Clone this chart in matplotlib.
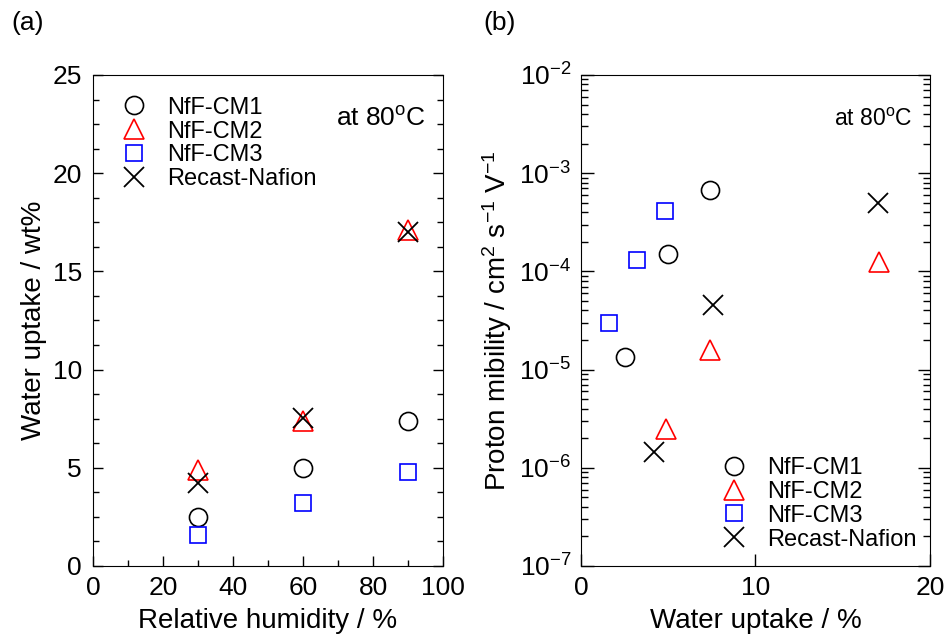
import numpy as np
import matplotlib.pyplot as plt
from matplotlib.ticker import MultipleLocator, LogLocator, NullFormatter, NullLocator

plt.rcParams['font.family'] = ['Liberation Sans', 'DejaVu Sans']
plt.rcParams['mathtext.fontset'] = 'custom'
plt.rcParams['mathtext.rm'] = 'Liberation Sans'
plt.rcParams['mathtext.it'] = 'Liberation Sans'
plt.rcParams['mathtext.default'] = 'regular'
plt.rcParams['axes.unicode_minus'] = False

# relative humidity (%)
rh = [30, 60, 90]
# water uptake (wt%) per membrane
wu_cm1 = [2.5, 5.0, 7.4]
wu_cm2 = [4.9, 7.4, 17.1]
wu_cm3 = [1.6, 3.2, 4.8]
wu_naf = [4.2, 7.55, 17.0]
# proton mobility (cm2 s-1 V-1)
mu_cm1 = [1.35e-5, 1.5e-4, 6.8e-4]
mu_cm2 = [2.5e-6, 1.6e-5, 1.25e-4]
mu_cm3 = [3.0e-5, 1.3e-4, 4.1e-4]
mu_naf = [1.45e-6, 4.5e-5, 5.0e-4]

labels = ['NfF-CM1', 'NfF-CM2', 'NfF-CM3', 'Recast-Nafion']

def style_for(i):
    if i == 0:
        return dict(marker='o', ms=13, mfc='none', mec='black', mew=1.2, ls='none')
    if i == 1:
        return dict(marker='^', ms=14, mfc='none', mec='red', mew=1.2, ls='none')
    if i == 2:
        return dict(marker='s', ms=12, mfc='none', mec='blue', mew=1.2, ls='none')
    return dict(marker='x', ms=14, mfc='none', mec='black', mew=1.3, ls='none')

fig = plt.figure(figsize=(9.47, 6.43), dpi=100)

# panel (a)
ax = fig.add_axes([0.0982, 0.1198, 0.3696, 0.7636])
for i, wu in enumerate([wu_cm1, wu_cm2, wu_cm3, wu_naf]):
    ax.plot(rh, wu, label=labels[i], **style_for(i))
ax.set_xlim(0, 100)
ax.set_ylim(0, 25)
ax.xaxis.set_major_locator(MultipleLocator(20))
ax.xaxis.set_minor_locator(MultipleLocator(10))
ax.yaxis.set_major_locator(MultipleLocator(5))
ax.yaxis.set_minor_locator(MultipleLocator(1.25))
ax.tick_params(which='both', direction='in', top=False, right=True, labelsize=19)
ax.tick_params(which='major', length=7, width=1)
ax.tick_params(which='minor', length=4, width=1)
ax.tick_params(axis='x', pad=7)
ax.tick_params(axis='y', pad=8)
ax.set_xlabel('Relative humidity / %', fontsize=20, labelpad=6)
ax.set_ylabel('Water uptake / wt%', fontsize=20, labelpad=4)
ax.legend(loc='upper left', bbox_to_anchor=(0.05, 0.975), frameon=False, fontsize=17,
          labelspacing=0.08, handletextpad=0.8, borderaxespad=0, handlelength=1.2)
ax.text(0.95, 0.91, 'at 80$^{o}$C', transform=ax.transAxes, ha='right', va='center', fontsize=19)
fig.text(0.012, 0.965, '(a)', fontsize=19, va='center')

# panel (b)
ax = fig.add_axes([0.6135, 0.1198, 0.3685, 0.7636])
for i, (wu, mu) in enumerate(zip([wu_cm1, wu_cm2, wu_cm3, wu_naf],
                                  [mu_cm1, mu_cm2, mu_cm3, mu_naf])):
    ax.plot(wu, mu, label=labels[i], **style_for(i))
ax.set_yscale('log')
ax.set_xlim(0, 20)
ax.set_ylim(1e-7, 1e-2)
ax.xaxis.set_major_locator(MultipleLocator(10))
ax.xaxis.set_minor_locator(NullLocator())
ax.yaxis.set_major_locator(LogLocator(base=10, numticks=10))
ax.yaxis.set_minor_locator(LogLocator(base=10, subs=np.arange(2, 10), numticks=10))
ax.yaxis.set_minor_formatter(NullFormatter())
ax.tick_params(which='both', direction='in', top=False, right=True, labelsize=19)
ax.tick_params(which='major', length=9, width=1)
ax.tick_params(which='minor', length=5, width=1)
ax.tick_params(axis='x', pad=7)
ax.tick_params(axis='y', pad=7)
ax.set_xlabel('Water uptake / %', fontsize=20, labelpad=6)
ax.set_ylabel('Proton mibility / cm$^{2}$ s$^{-1}$ V$^{-1}$', fontsize=20, labelpad=4)
ax.legend(loc='lower left', bbox_to_anchor=(0.37, 0.012), frameon=False, fontsize=17,
          labelspacing=0.08, handletextpad=0.8, borderaxespad=0, handlelength=1.2)
ax.text(0.95, 0.91, 'at 80$^{o}$C', transform=ax.transAxes, ha='right', va='center', fontsize=16.5)
fig.text(0.51, 0.965, '(b)', fontsize=19, va='center')

fig.savefig('out.png', dpi=100)
